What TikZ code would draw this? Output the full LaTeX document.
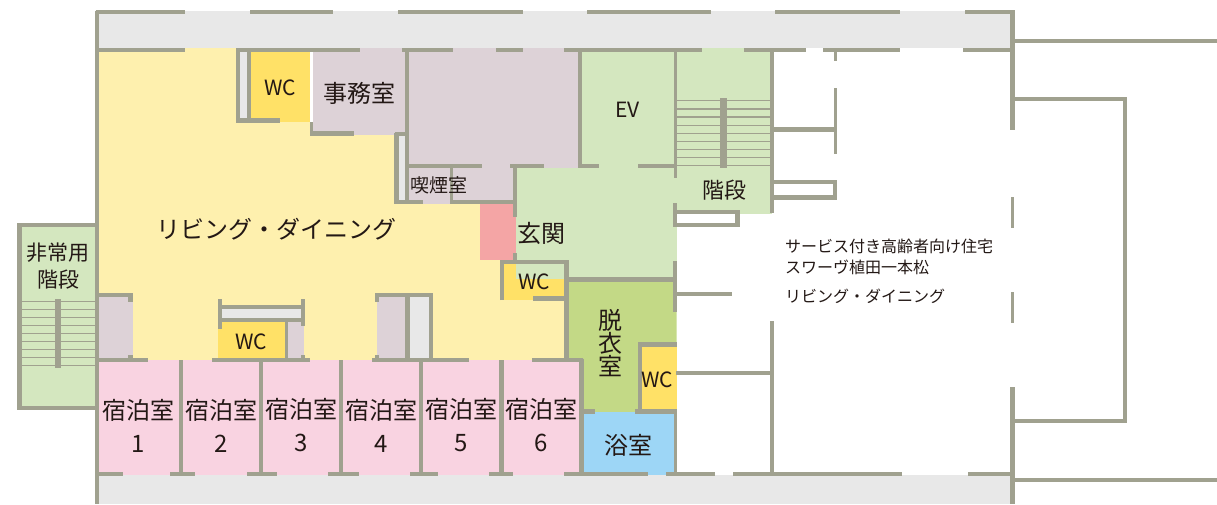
\documentclass[tikz,border=0pt]{standalone}
\usepackage{fontspec}
\setmainfont{Noto Sans CJK JP}
\definecolor{wallc}{HTML}{A0A18F}
\definecolor{yel}{HTML}{FEF0AE}
\definecolor{wcy}{HTML}{FFE167}
\definecolor{rose}{HTML}{DDD2D7}
\definecolor{lgreen}{HTML}{D4E7BF}
\definecolor{dgreen}{HTML}{C3D986}
\definecolor{bluec}{HTML}{9DD6F6}
\definecolor{pinkc}{HTML}{F9D3E1}
\definecolor{coral}{HTML}{F4A5A5}
\definecolor{greyc}{HTML}{E8E8E8}
\definecolor{inkc}{HTML}{231815}
\tikzset{
  wall/.style={draw=wallc,line width=4.2pt},
  thinwall/.style={draw=wallc,line width=3.5pt},
  tread/.style={draw=wallc,line width=1.5pt},
  bar/.style={draw=wallc,line width=6.5pt},
  lab/.style={font=\fontsize{24}{29}\selectfont,text=inkc,inner sep=0pt,align=center},
  wclab/.style={font=\fontsize{21}{25}\selectfont,text=inkc,inner sep=0pt},
  small/.style={font=\fontsize{16}{20}\selectfont,text=inkc,inner sep=0pt,anchor=west},
}
\begin{document}
\begin{tikzpicture}[x=1pt,y=-1pt]
\useasboundingbox (0,0) rectangle (1217,504);
\fill[white] (0,0) rectangle (1217,504);
% corridors
\fill[greyc] (97,10.5) rectangle (1012,48);
\fill[greyc] (97,475) rectangle (1012,504);
% living
\fill[yel] (99,48)--(236,48)--(236,122)--(310,122)--(310,135)--(396,135)--(396,204)--(482,204)--(482,260)--(504,260)--(504,300)--(567,300)--(567,360)--(99,360)--cycle;
% rose rooms
\fill[rose] (313,48) rectangle (406,135);
\fill[rose] (408,48) rectangle (580,204);
\fill[rose] (99,296) rectangle (133,360);
\fill[rose] (288,321) rectangle (304,360);
\fill[rose] (377,296) rectangle (407,360);
% greys
\fill[greyc] (240,52) rectangle (248,119);
\fill[greyc] (398,135) rectangle (406,200);
\fill[greyc] (222,309) rectangle (302,318);
\fill[greyc] (409,296) rectangle (430,358);
% wc
\fill[wcy] (250,50) rectangle (310,122);
\fill[wcy] (218,321) rectangle (285,360);
\fill[wcy] (503,263) rectangle (566,300);
\fill[wcy] (641,344) rectangle (676.5,410);
% greens
\fill[lgreen] (581,48) rectangle (675,168);
\fill[lgreen] (675,48) rectangle (772,213.5);
\fill[lgreen] (516,168) rectangle (677,279);
\fill[lgreen] (22,225) rectangle (97,408);
\fill[coral] (480,204) rectangle (516,260);
\fill[dgreen] (567,280)--(676.5,280)--(676.5,344)--(640,344)--(640,412)--(582,412)--(582,360)--(567,360)--cycle;
\fill[bluec] (582,412) rectangle (675,475);
\fill[pinkc] (99,360) rectangle (582,475);
% white boxes
\fill[white] (677,213.5) rectangle (737,225);
% outer top wall
\foreach \a/\b in {95.5/185,250/333,398/523,587/711,775/900,965/1014.5}
  \draw[wall] (\a,12.3)--(\b,12.3);
% second wall
\foreach \a/\b in {95.5/185,236/360,402/453,496/523,564/702,744/806,823/900,963/1014.5}
  \draw[wall] (\a,49.7)--(\b,49.7);
% bottom wall
\foreach \a/\b in {97/123,170/195,247/277,328/359,410/438,489/513,564/648,666/715,733/902,968/1012}
  \draw[wall] (\a,474)--(\b,474);
% left wall
\draw[wall] (97.3,10.5)--(97.3,504);
% right wall
\foreach \a/\b in {10.5/130,387/504}
  \draw[wall] (1012.5,\a)--(1012.5,\b);
\foreach \a/\b in {197/228,292/323}
  \draw[thinwall] (1012.3,\a)--(1012.3,\b);
% right side
\draw[wall] (1014,41)--(1217,41);
\draw[wall] (1014,480)--(1217,480);
\draw[wall,miter limit=10] (1012,98.7)--(1125,98.7)--(1125,421.3)--(1012,421.3);
% WC top and storage
\draw[wall] (238,50)--(238,121);
\draw[thinwall] (249,50)--(249,121);
\draw[wall] (236,120.5)--(280,120.5);
\draw[thinwall] (311.5,122)--(311.5,135);
\draw[wall] (310,133.5)--(354,133.5);
% office right
\draw[wall] (407,50)--(407,203);
\draw[wall] (396.5,133)--(396.5,203.5);
\draw[thinwall] (395,134)--(407,134);
\draw[wall] (395,202)--(423,202);
\draw[wall] (450,202)--(517,202);
\draw[thinwall] (451.5,166)--(451.5,202);
\draw[wall] (407,166)--(482,166);
\draw[wall] (510,166)--(544,166);
\draw[wall] (515,164.5)--(515,217);
\draw[wall] (515,253)--(515,262);
\draw[wall] (579.7,50)--(579.7,167);
\draw[wall] (578,166)--(599,166);
\draw[wall] (638,166)--(675,166);
\draw[thinwall] (675.3,50)--(675.3,178);
\draw[wall] (675.3,203)--(675.3,227);
\draw[wall] (771.7,50)--(771.7,213);
% stairs
\foreach \y in {100.7,109,117,125.7,133.7,141.7,149.7,157.7,165.7}
  \draw[tread] (677,\y)--(771,\y);
\draw[bar] (723.3,98)--(723.3,168);
\foreach \y in {301.7,309.7,317.7,325.7,333.7,341.7,349.7,357.7,365.7}
  \draw[tread] (22,\y)--(95,\y);
\draw[bar] (58,299)--(58,368);
% boxes
\draw[wall] (675,212)--(737.5,212)--(737.5,225.3)--(675,225.3);
\draw[wall] (772,182)--(835,182)--(835,197.5)--(772,197.5);
\draw[wall] (772,129.5)--(835,129.5);
\draw[thinwall] (835.3,50)--(835.3,61);
\draw[thinwall] (835.3,88)--(835.3,154);
% entrance WC
\draw[wall] (502,300)--(502,262)--(566.5,262)--(566.5,360);
\draw[wall] (533,298.5)--(566,298.5);
\draw[wall] (566,279.5)--(677,279.5);
\draw[wall] (675.3,261)--(675.3,312);
\draw[wall] (677,294)--(732,294);
\draw[wall] (640,410)--(640,344.5)--(677,344.5);
\draw[wall] (635,411.5)--(677,411.5);
\draw[thinwall] (675.3,410)--(675.3,474);
\draw[thinwall] (676,373)--(772,373);
\draw[thinwall] (772,321)--(772,474);
\draw[wall] (581,411.5)--(595,411.5);
\draw[wall] (581.5,358.5)--(581.5,474);
% wall y=360
\foreach \a/\b in {97/148,212/310,372/469,532/583}
  \draw[wall] (\a,360)--(\b,360);
\foreach \x in {181,261.3,341.3,421.3,501.5}
  \draw[wall] (\x,360)--(\x,474);
% left block
\draw[wall] (97,294.7)--(132.5,294.7);
\draw[wall] (130.5,293)--(130.5,302);
\draw[wall] (130.5,355)--(130.5,360);
% center block
\draw[wall] (220,299)--(220,329);
\draw[wall] (303,299)--(303,326);
\draw[wall] (220,307.3)--(303,307.3);
\draw[wall] (220,319.7)--(303,319.7);
\draw[thinwall] (286.5,320)--(286.5,360);
\draw[wall] (303,355)--(303,360);
% right block
\draw[wall] (377,293)--(377,302);
\draw[wall] (377,355)--(377,360);
\draw[wall] (375,294.7)--(432.5,294.7);
\draw[wall] (407.5,294)--(407.5,360);
\draw[wall] (430.7,293)--(430.7,360);
% emergency stairs
\draw[wall] (97,224.7)--(19.5,224.7)--(19.5,408)--(97,408);
% labels
\node[lab] (ld) at (276,229.5) {リビング・ダイニング};
\node[wclab] (wc1) at (280,88) {WC};
\node[lab] (office) at (359,93.5) {事務室};
\node[lab,font=\fontsize{19}{23}\selectfont] (smoke) at (439,185.5) {喫煙室};
\node[lab,font=\fontsize{21}{25}\selectfont] (ev) at (627.5,109.5) {EV};
\node[lab,font=\fontsize{22}{26}\selectfont] (stairs) at (724.5,190.5) {階段};
\node[lab] (entry) at (541.5,233.5) {玄関};
\node[wclab] (wc2) at (534.5,282) {WC};
\node[lab,font=\fontsize{21}{27}\selectfont] (emerg) at (58,266.5) {非常用\\階段};
\node[wclab] (wc3) at (251.5,341.5) {WC};
\node[lab,align=center] (dress) at (610.5,343.5) {脱\\[-6pt]衣\\[-6pt]室};
\node[wclab] (wc4) at (657,379.5) {WC};
\node[lab] (bath) at (628.5,445) {浴室};
\node[lab,align=center] (r1) at (138.5,425.5) {宿泊室\\[4pt]1};
\node[lab,align=center] (r2) at (221,425.5) {宿泊室\\[4pt]2};
\node[lab,align=center] (r3) at (301,425.5) {宿泊室\\[4pt]3};
\node[lab,align=center] (r4) at (381,425.5) {宿泊室\\[4pt]4};
\node[lab,align=center] (r5) at (461,425.5) {宿泊室\\[4pt]5};
\node[lab,align=center] (r6) at (541,425.5) {宿泊室\\[4pt]6};
\node[small] (t1) at (785,246) {サービス付き高齢者向け住宅};
\node[small] (t2) at (785,267.5) {スワーヴ植田一本松};
\node[small] (t3) at (785,296) {リビング・ダイニング};
\end{tikzpicture}
\end{document}
